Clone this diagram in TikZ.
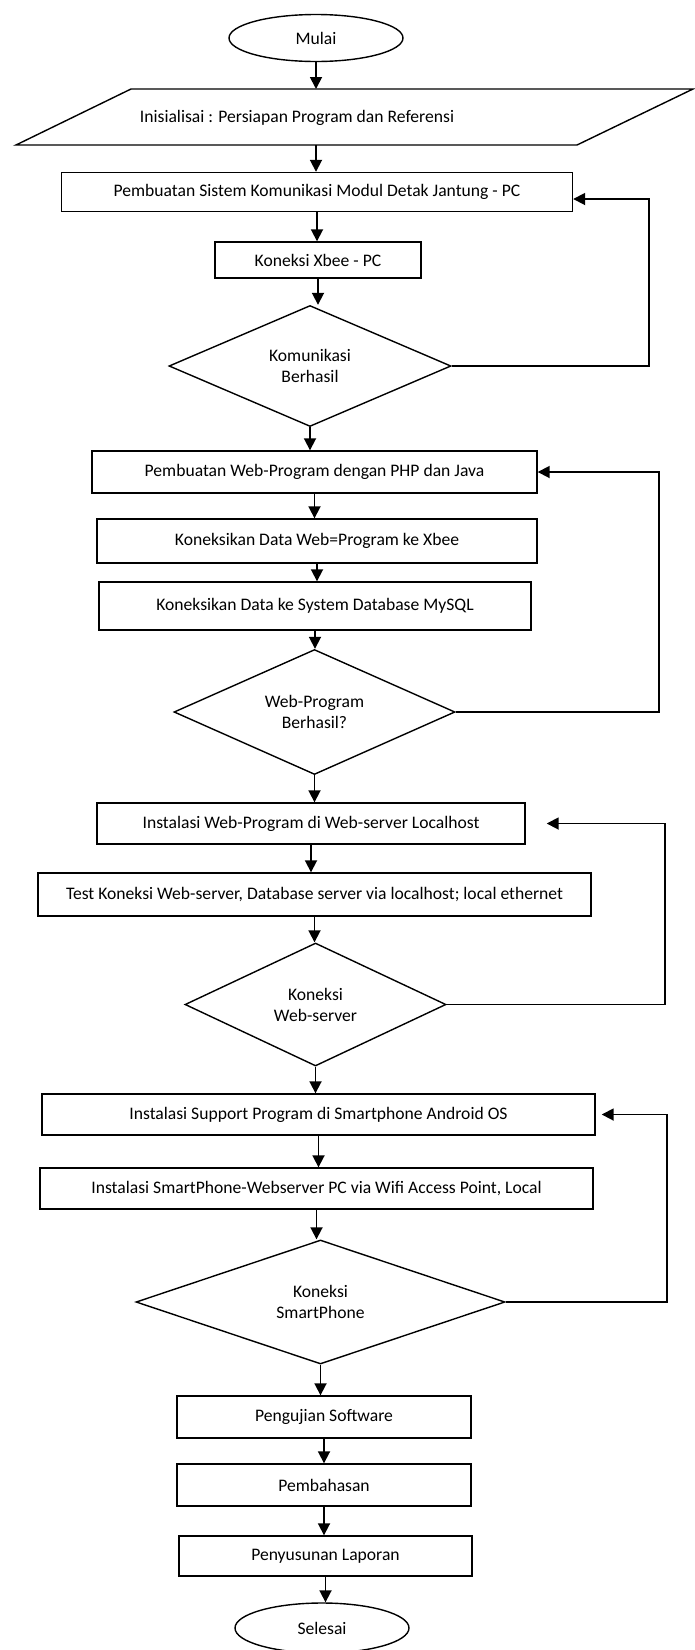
\documentclass[tikz,border=0pt]{standalone}
\usepackage{fontspec}
\setmainfont{Carlito}
\usetikzlibrary{shapes.geometric,arrows.meta}
\tikzset{
  box/.style={draw, line width=0.7pt, rectangle, inner sep=1pt, font=\fontsize{8.8}{10.5}\selectfont},
  decision/.style={draw, line width=0.7pt, diamond, aspect=2.3, inner sep=0pt, align=center, font=\fontsize{8.8}{10.5}\selectfont},
  terminal/.style={draw, line width=0.7pt, ellipse, inner sep=0pt, font=\fontsize{8.8}{10.5}\selectfont},
  arr/.style={line width=0.9pt, -{Triangle[length=6pt,width=6pt]}}
}
\begin{document}
\begin{tikzpicture}[x=0.5pt,y=-0.5pt]
\useasboundingbox (0,0) rectangle (695,1650);
\node[terminal, minimum width=87pt, minimum height=23.5pt] (mulai) at (316,38) {Mulai};
\coordinate (inittop) at (316,89);
\coordinate (initbot) at (316,145);
\draw[line width=0.7pt] (131,89) -- (693,89) -- (577,145) -- (16,145) -- cycle;
\node[font=\fontsize{8.8}{10.5}\selectfont] (initxt) at (297,118) {Inisialisai : Persiapan Program dan Referensi};
\node[box, minimum width=255.5pt, minimum height=19.5pt] (b1) at (317,192) {Pembuatan Sistem Komunikasi Modul Detak Jantung - PC};
\node[box, minimum width=103pt, minimum height=18pt] (b2) at (318,260) {Koneksi Xbee - PC};
\node[decision, minimum width=141pt, minimum height=60.5pt] (d1) at (310,366) {Komunikasi\\Berhasil};
\node[box, minimum width=222.5pt, minimum height=21pt] (b3) at (314.5,472) {Pembuatan Web-Program dengan PHP dan Java};
\node[box, minimum width=220pt, minimum height=22pt] (b4) at (317,541) {Koneksikan Data Web=Program ke Xbee};
\node[box, minimum width=216pt, minimum height=24pt] (b5) at (315,606) {Koneksikan Data ke System Database MySQL};
\node[decision, minimum width=140.5pt, minimum height=62.5pt] (d2) at (314.5,712) {Web-Program\\Berhasil?};
\node[box, minimum width=214pt, minimum height=20.5pt] (b6) at (311,823.5) {Instalasi Web-Program di Web-server Localhost};
\node[box, minimum width=276.5pt, minimum height=21.5pt] (b7) at (314.5,894.5) {Test Koneksi Web-server, Database server via localhost; local ethernet};
\node[decision, minimum width=130.5pt, minimum height=61.5pt] (d3) at (315.5,1004.5) {Koneksi\\Web-server};
\node[box, minimum width=276.5pt, minimum height=20.5pt] (b8) at (318.5,1114.5) {Instalasi Support Program di Smartphone Android OS};
\node[box, minimum width=276.5pt, minimum height=20.5pt] (b9) at (316.5,1188.5) {Instalasi SmartPhone-Webserver PC via Wifi Access Point, Local};
\node[decision, minimum width=184.5pt, minimum height=62pt] (d4) at (320.5,1302) {Koneksi\\SmartPhone};
\node[box, minimum width=147pt, minimum height=21pt] (b10) at (324,1417) {Pengujian Software};
\node[box, minimum width=147pt, minimum height=21pt] (b11) at (324,1485) {Pembahasan};
\node[box, minimum width=146.5pt, minimum height=20pt] (b12) at (325.5,1556) {Penyusunan Laporan};
\node[terminal, minimum width=87pt, minimum height=25pt] (selesai) at (322,1628) {Selesai};
\draw[arr] (mulai.south) -- (inittop);
\draw[arr] (initbot) -- (initbot |- b1.north);
\draw[arr] (b1.south) -- (b1.south |- b2.north);
\draw[arr] (b2.south) -- (b2.south |- d1.north);
\draw[arr] (d1.south) -- (d1.south |- b3.north);
\draw[arr] (b3.south) -- (b3.south |- b4.north);
\draw[arr] (b4.south) -- (b4.south |- b5.north);
\draw[arr] (b5.south) -- (b5.south |- d2.north);
\draw[arr] (d2.south) -- (d2.south |- b6.north);
\draw[arr] (b6.south) -- (b6.south |- b7.north);
\draw[arr] (b7.south) -- (b7.south |- d3.north);
\draw[arr] (d3.south) -- (d3.south |- b8.north);
\draw[arr] (b8.south) -- (b8.south |- b9.north);
\draw[arr] (b9.south) -- (b9.south |- d4.north);
\draw[arr] (d4.south) -- (d4.south |- b10.north);
\draw[arr] (b10.south) -- (b10.south |- b11.north);
\draw[arr] (b11.south) -- (b11.south |- b12.north);
\draw[arr] (b12.south) -- (b12.south |- selesai.north);
\draw[arr] (d1.east) -- ++(197,0) |- ([yshift=-3.5pt]b1.east);
\draw[arr] (d2.east) -- ++(203,0) |- (b3.east);
\draw[arr, shorten >=10.5pt] (d3.east) -- ++(218,0) |- (b6.east);
\draw[arr, shorten >=3pt] (d4.east) -- ++(161,0) |- (b8.east);
\end{tikzpicture}
\end{document}
